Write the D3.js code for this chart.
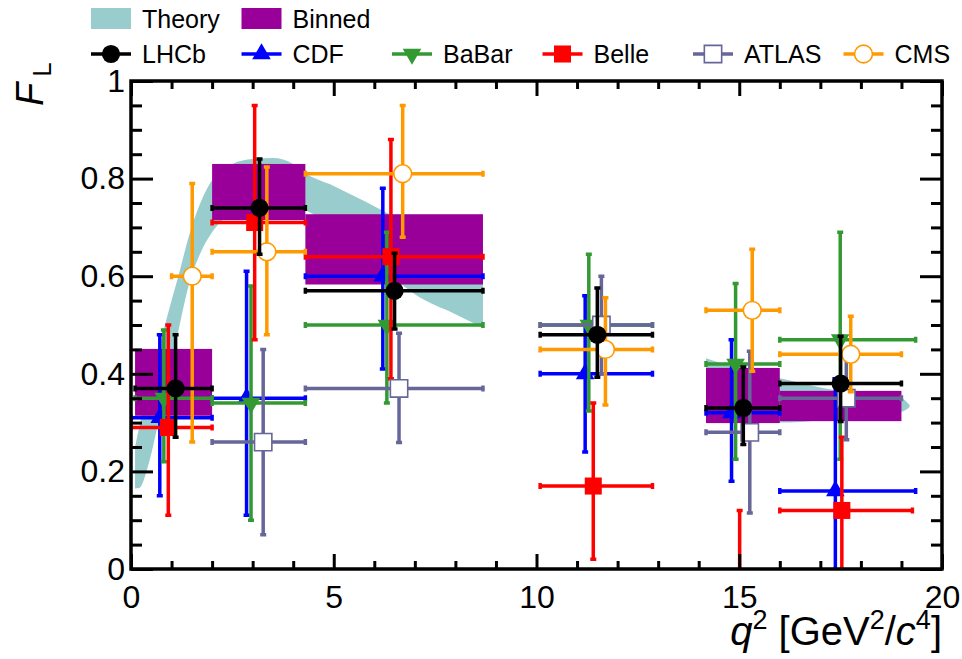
<!DOCTYPE html>
<html>
<head>
<meta charset="utf-8">
<script src="https://cdn.jsdelivr.net/npm/d3@7"></script>
<style>
  body { margin: 0; background: #fff; }
  svg { display: block; font-family: "Liberation Sans", Arial, Helvetica, sans-serif; }
</style>
</head>
<body>
<svg id="chart" width="962" height="659"></svg>
<script>
// theory band, low q2 region
var theoryQ1  = [0.1, 0.2, 0.45, 0.7, 1.0, 1.2, 1.42, 1.71, 2.0, 2.5, 3.0, 3.5, 4.0, 4.3, 5.0, 5.8, 6.64, 7.0, 8.0, 8.68];
var theoryLo1 = [0.165, 0.166, 0.22, 0.31, 0.42, 0.50, 0.58, 0.647, 0.69, 0.73, 0.75, 0.755, 0.745, 0.735, 0.70, 0.64, 0.585, 0.563, 0.522, 0.494];
var theoryHi1 = [0.25, 0.29, 0.37, 0.455, 0.55, 0.61, 0.68, 0.75, 0.797, 0.83, 0.84, 0.842, 0.83, 0.811, 0.785, 0.752, 0.715, 0.70, 0.65, 0.62];
// theory band, high q2 region
var theoryQ2  = [14.18, 15.0, 16.0, 17.0, 18.0, 19.0, 19.2];
var theoryLo2 = [0.30, 0.30, 0.30, 0.305, 0.315, 0.322, 0.332];
var theoryHi2 = [0.432, 0.41, 0.391, 0.372, 0.358, 0.35, 0.336];

// binned theory boxes
var binnedLo  = [0.1, 2.0, 4.3, 14.18, 16.0];
var binnedHi  = [2.0, 4.3, 8.68, 16.0, 19.0];
var binnedMin = [0.314, 0.715, 0.583, 0.299, 0.303];
var binnedMax = [0.451, 0.830, 0.727, 0.412, 0.365];

// LHCb
var lhcbQ     = [1.1, 3.17, 6.5, 11.5, 15.1, 17.5];
var lhcbBinLo = [0.1, 2.0, 4.3, 10.09, 14.18, 16.0];
var lhcbBinHi = [2.0, 4.3, 8.68, 12.86, 16.0, 19.0];
var lhcbFL    = [0.37, 0.74, 0.57, 0.48, 0.33, 0.38];
var lhcbUp    = [0.11, 0.10, 0.077, 0.096, 0.084, 0.097];
var lhcbDn    = [0.10, 0.095, 0.078, 0.087, 0.075, 0.078];

// CDF
var cdfQ     = [0.71, 2.85, 6.21, 11.2, 14.81, 17.37];
var cdfBinLo = [0.0, 2.0, 4.3, 10.09, 14.18, 16.0];
var cdfBinHi = [2.0, 4.3, 8.68, 12.86, 16.0, 19.35];
var cdfFL    = [0.31, 0.35, 0.60, 0.40, 0.32, 0.16];
var cdfUp    = [0.17, 0.26, 0.18, 0.16, 0.15, 0.23];
var cdfDn    = [0.16, 0.24, 0.19, 0.16, 0.14, 0.25];

// BaBar
var babarQ     = [0.81, 2.96, 6.31, 11.29, 14.91, 17.49];
var babarBinLo = [0.1, 2.0, 4.3, 10.09, 14.18, 16.0];
var babarBinHi = [2.0, 4.3, 8.68, 12.86, 16.0, 19.35];
var babarFL    = [0.35, 0.34, 0.50, 0.50, 0.42, 0.47];
var babarUp    = [0.14, 0.24, 0.19, 0.145, 0.165, 0.22];
var babarDn    = [0.13, 0.24, 0.16, 0.176, 0.195, 0.245];

// Belle
var belleQ     = [0.92, 3.05, 6.41, 11.4, 15.01, 17.53];
var belleBinLo = [0.0, 2.0, 4.3, 10.09, 14.18, 16.0];
var belleBinHi = [2.0, 4.3, 8.68, 12.86, 16.0, 19.27];
var belleFL    = [0.29, 0.71, 0.64, 0.17, -0.15, 0.12];
var belleUp    = [0.21, 0.24, 0.24, 0.17, 0.27, 0.15];
var belleDn    = [0.18, 0.24, 0.25, 0.15, 0.23, 0.13];

// ATLAS
var atlasQ     = [3.26, 6.61, 11.6, 15.26, 17.64];
var atlasBinLo = [2.0, 4.3, 10.09, 14.18, 16.0];
var atlasBinHi = [4.3, 8.68, 12.86, 16.0, 19.0];
var atlasFL    = [0.26, 0.37, 0.50, 0.28, 0.35];
var atlasUp    = [0.19, 0.113, 0.10, 0.166, 0.085];
var atlasDn    = [0.19, 0.111, 0.10, 0.165, 0.085];

// CMS
var cmsQ     = [1.51, 3.35, 6.70, 11.7, 15.32, 17.75];
var cmsBinLo = [1.0, 2.0, 4.3, 10.09, 14.18, 16.0];
var cmsBinHi = [2.0, 4.3, 8.68, 12.86, 16.0, 19.0];
var cmsFL    = [0.60, 0.65, 0.81, 0.45, 0.53, 0.44];
var cmsUp    = [0.19, 0.174, 0.14, 0.106, 0.125, 0.078];
var cmsDn    = [0.34, 0.17, 0.13, 0.114, 0.125, 0.077];

// ticks
var xMajor = [0, 5, 10, 15, 20];
var yMajor = [0, 0.2, 0.4, 0.6, 0.8, 1];

var svg = d3.select('#chart');
// note: "top" is taken by window.top, so use frame* names
var frameL = 131, frameR = 942, frameT = 81, frameB = 569;

var x = d3.scaleLinear().domain([0, 20]).range([frameL, frameR]);
var y = d3.scaleLinear().domain([0, 1]).range([frameB, frameT]);

svg.append('defs').append('clipPath').attr('id', 'plotclip')
  .append('rect')
  .attr('x', frameL).attr('y', frameT)
  .attr('width', frameR - frameL).attr('height', frameB - frameT);

var plot = svg.append('g').attr('clip-path', 'url(#plotclip)');

// theory band
var band = d3.area()
  .x(function(d) { return x(d.q); })
  .y0(function(d) { return y(d.lo); })
  .y1(function(d) { return y(d.hi); })
  .curve(d3.curveMonotoneX);

function bandData(qs, los, his) {
  return qs.map(function(q, i) { return {q: q, lo: los[i], hi: his[i]}; });
}

plot.selectAll('path.theory')
  .data([bandData(theoryQ1, theoryLo1, theoryHi1), bandData(theoryQ2, theoryLo2, theoryHi2)])
  .join('path')
  .attr('class', 'theory')
  .attr('d', band)
  .style('fill', '#99cccc');

// binned boxes
plot.selectAll('rect.binned')
  .data(binnedLo.map(function(lo, i) { return {lo: lo, hi: binnedHi[i], min: binnedMin[i], max: binnedMax[i]}; }))
  .join('rect')
  .attr('class', 'binned')
  .attr('x', function(d) { return x(d.lo); })
  .attr('width', function(d) { return x(d.hi) - x(d.lo); })
  .attr('y', function(d) { return y(d.max); })
  .attr('height', function(d) { return y(d.min) - y(d.max); })
  .style('fill', '#990099');

var series = [
  {name: 'CDF', color: '#0000ff', marker: 'tri', q: cdfQ, lo: cdfBinLo, hi: cdfBinHi, v: cdfFL, up: cdfUp, dn: cdfDn},
  {name: 'BaBar', color: '#339933', marker: 'tridown', q: babarQ, lo: babarBinLo, hi: babarBinHi, v: babarFL, up: babarUp, dn: babarDn},
  {name: 'Belle', color: '#ff0000', marker: 'square', q: belleQ, lo: belleBinLo, hi: belleBinHi, v: belleFL, up: belleUp, dn: belleDn},
  {name: 'ATLAS', color: '#666699', marker: 'opensquare', q: atlasQ, lo: atlasBinLo, hi: atlasBinHi, v: atlasFL, up: atlasUp, dn: atlasDn},
  {name: 'CMS', color: '#ff9900', marker: 'opencircle', q: cmsQ, lo: cmsBinLo, hi: cmsBinHi, v: cmsFL, up: cmsUp, dn: cmsDn},
  {name: 'LHCb', color: '#000000', marker: 'circle', q: lhcbQ, lo: lhcbBinLo, hi: lhcbBinHi, v: lhcbFL, up: lhcbUp, dn: lhcbDn}
];

function addMarker(sel, marker, color) {
  var sym, fill = color, stroke = 'none', rot = 0;
  if (marker === 'circle') sym = d3.symbol(d3.symbolCircle, 260);
  if (marker === 'opencircle') { sym = d3.symbol(d3.symbolCircle, 250); fill = '#fff'; stroke = color; }
  if (marker === 'square') sym = d3.symbol(d3.symbolSquare, 290);
  if (marker === 'opensquare') { sym = d3.symbol(d3.symbolSquare, 300); fill = '#fff'; stroke = color; }
  if (marker === 'tri') sym = d3.symbol(d3.symbolTriangle, 150);
  if (marker === 'tridown') { sym = d3.symbol(d3.symbolTriangle, 150); rot = 180; }
  sel.append('path')
    .attr('d', sym)
    .attr('transform', function(d) { return 'translate(' + d.px + ',' + d.py + ') rotate(' + rot + ')'; })
    .style('fill', fill)
    .style('stroke', stroke)
    .style('stroke-width', 1.6);
}

var cap = 3;
series.forEach(function(s) {
  var pts = s.q.map(function(q, i) {
    return {px: x(q), py: y(s.v[i]), x0: x(s.lo[i]), x1: x(s.hi[i]),
            yt: y(s.v[i] + s.up[i]), yb: y(s.v[i] - s.dn[i])};
  });
  var g = plot.append('g').style('stroke', s.color).style('stroke-width', 3.5);
  var pg = g.selectAll('g.pt').data(pts).join('g').attr('class', 'pt');
  pg.append('line')
    .attr('x1', function(d) { return d.x0; }).attr('x2', function(d) { return d.x1; })
    .attr('y1', function(d) { return d.py; }).attr('y2', function(d) { return d.py; });
  pg.append('line')
    .attr('x1', function(d) { return d.px; }).attr('x2', function(d) { return d.px; })
    .attr('y1', function(d) { return d.yt; }).attr('y2', function(d) { return d.yb; });
  // end caps
  pg.append('path')
    .attr('d', function(d) {
      return 'M' + d.x0 + ',' + (d.py - cap) + 'V' + (d.py + cap) +
             'M' + d.x1 + ',' + (d.py - cap) + 'V' + (d.py + cap) +
             'M' + (d.px - cap) + ',' + d.yt + 'H' + (d.px + cap) +
             'M' + (d.px - cap) + ',' + d.yb + 'H' + (d.px + cap);
    })
    .style('fill', 'none');
  addMarker(pg, s.marker, s.color);
});

// axes: ticks drawn inward on all four sides
function fmtY(d) { return d === 0 ? '0' : d === 1 ? '1' : d.toFixed(1); }
var xMinor = d3.range(0, 21).filter(function(d) { return d % 5 !== 0; });
var yMinor = d3.range(0, 21).map(function(d) { return d / 20; }).filter(function(d, i) { return i % 4 !== 0; });

function styleAxis(g) {
  g.select('.domain').remove();
  g.selectAll('line').style('stroke', '#000').style('stroke-width', 3);
  g.selectAll('text').style('font-size', '32px').style('fill', '#000')
    .style('font-family', '"Liberation Sans", Arial, Helvetica, sans-serif');
}

svg.append('g').attr('transform', 'translate(0,' + frameB + ')')
  .call(d3.axisBottom(x).tickValues(xMajor).tickSize(-15).tickPadding(16).tickFormat(d3.format('d')))
  .call(styleAxis);
svg.append('g').attr('transform', 'translate(0,' + frameB + ')')
  .call(d3.axisBottom(x).tickValues(xMinor).tickSize(-8).tickFormat(''))
  .call(styleAxis);
svg.append('g').attr('transform', 'translate(0,' + frameT + ')')
  .call(d3.axisTop(x).tickValues(xMajor).tickSize(-15).tickFormat(''))
  .call(styleAxis);
svg.append('g').attr('transform', 'translate(0,' + frameT + ')')
  .call(d3.axisTop(x).tickValues(xMinor).tickSize(-8).tickFormat(''))
  .call(styleAxis);
svg.append('g').attr('transform', 'translate(' + frameL + ',0)')
  .call(d3.axisLeft(y).tickValues(yMajor).tickSize(-22).tickPadding(6).tickFormat(fmtY))
  .call(styleAxis);
svg.append('g').attr('transform', 'translate(' + frameL + ',0)')
  .call(d3.axisLeft(y).tickValues(yMinor).tickSize(-11).tickFormat(''))
  .call(styleAxis);
svg.append('g').attr('transform', 'translate(' + frameR + ',0)')
  .call(d3.axisRight(y).tickValues(yMajor).tickSize(-22).tickFormat(''))
  .call(styleAxis);
svg.append('g').attr('transform', 'translate(' + frameR + ',0)')
  .call(d3.axisRight(y).tickValues(yMinor).tickSize(-11).tickFormat(''))
  .call(styleAxis);

svg.append('rect')
  .attr('x', frameL).attr('y', frameT)
  .attr('width', frameR - frameL).attr('height', frameB - frameT)
  .style('fill', 'none').style('stroke', '#000').style('stroke-width', 3.5);

// axis titles
var xt = svg.append('text')
  .attr('x', frameR).attr('y', 645)
  .attr('text-anchor', 'end')
  .style('font-size', '40px');
xt.append('tspan').style('font-style', 'italic').text('q');
xt.append('tspan').attr('dy', -16).style('font-size', '27px').text('2');
xt.append('tspan').attr('dy', 16).text(' [GeV');
xt.append('tspan').attr('dy', -16).style('font-size', '27px').text('2');
xt.append('tspan').attr('dy', 16).text('/');
xt.append('tspan').style('font-style', 'italic').text('c');
xt.append('tspan').attr('dy', -16).style('font-size', '27px').text('4');
xt.append('tspan').attr('dy', 16).text(']');

var yt = svg.append('text')
  .attr('transform', 'translate(43,106) rotate(-90)')
  .attr('text-anchor', 'start')
  .style('font-size', '38px');
yt.append('tspan').style('font-style', 'italic').text('F');
yt.append('tspan').attr('dy', 8).attr('dx', 6).style('font-size', '26px').text('L');

// legend
var legendNames   = ['Theory', 'Binned', 'LHCb', 'CDF', 'BaBar', 'Belle', 'ATLAS', 'CMS'];
var legendColors  = ['#99cccc', '#990099', '#000000', '#0000ff', '#339933', '#ff0000', '#666699', '#ff9900'];
var legendMarkers = ['box', 'box', 'circle', 'tri', 'tridown', 'square', 'opensquare', 'opencircle'];

var legend = svg.append('g');
legendNames.forEach(function(name, i) {
  var row = i < 2 ? 0 : 1;
  var col = i < 2 ? i : i - 2;
  var lx = 91 + col * 150.5;
  var cy = row === 0 ? 18.5 : 54;
  var e = legend.append('g');
  if (legendMarkers[i] === 'box') {
    e.append('rect').attr('x', lx).attr('y', cy - 10.5).attr('width', 40).attr('height', 21)
      .style('fill', legendColors[i]);
  } else {
    e.append('line').attr('x1', lx).attr('x2', lx + 40).attr('y1', cy).attr('y2', cy)
      .style('stroke', legendColors[i]).style('stroke-width', 3.5);
    var m = e.selectAll('g.m').data([{px: lx + 20, py: cy}]).join('g').attr('class', 'm');
    addMarker(m, legendMarkers[i], legendColors[i]);
  }
  e.append('text').attr('x', lx + 51).attr('y', cy + 9)
    .style('font-size', '25px').text(name);
});
</script>
</body>
</html>
